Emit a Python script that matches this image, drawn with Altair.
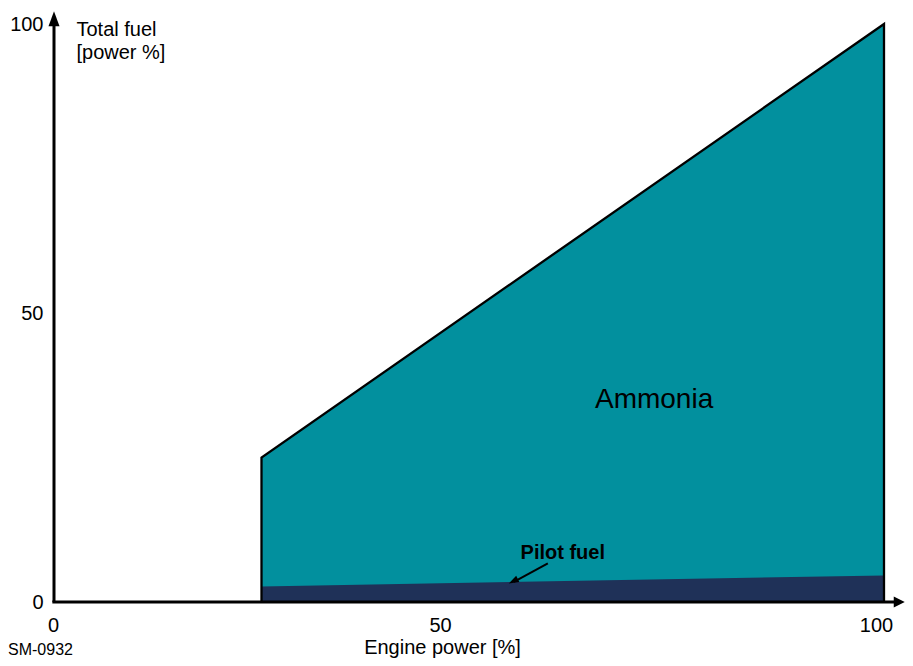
import altair as alt
import pandas as pd

# ---- data ----
power = [25, 100]          # engine power [%]
total_fuel = [25, 100]     # total fuel [power %]
pilot_fuel = [2.7, 4.6]    # pilot fuel share [power %]
x_ticks = [0, 50, 100]
y_ticks = [0, 50, 100]

# annotation anchors (data units)
ANNOT = {
    "ammonia": (72.3, 33.6),
    "pilot_text": (61.3, 7.45),
    "pilot_arrow_from": (59.5, 6.7),
    "pilot_arrow_to": (54.8, 3.2),
}

TEAL = "#02909e"
NAVY = "#1f3158"
FONT = "Liberation Sans"

xs = alt.Scale(domain=[0, 100], nice=False, zero=False)
ys = alt.Scale(domain=[0, 100], nice=False, zero=False)

xaxis = alt.Axis(
    values=x_ticks, title="Engine power [%]", domain=False, ticks=False, grid=False,
    labelFont=FONT, labelFontSize=20, labelColor="black", labelPadding=13,
    labelFlush=False,
    labelOffset={"condition": [{"test": "datum.value == 50", "value": -29},
                               {"test": "datum.value == 100", "value": -8}],
                 "value": -1},
    titleFont=FONT, titleFontSize=20, titleFontWeight="normal", titleColor="black",
    titleX=388, titleY=51, titleBaseline="alphabetic", titleAlign="center",
)
yaxis = alt.Axis(
    values=y_ticks, title=["Total fuel", "[power %]"], domain=False, ticks=False,
    grid=False, labelFont=FONT, labelFontSize=20, labelColor="black",
    labelPadding=11, labelFlush=False,
    titleFont=FONT, titleFontSize=20, titleFontWeight="normal", titleColor="black",
    titleAngle=0, titleAlign="left", titleBaseline="alphabetic",
    titleX=22, titleY=11, titleLineHeight=23,
)


def X(field=None, datum=None):
    if field is not None:
        return alt.X(field, type="quantitative", scale=xs, axis=xaxis)
    return alt.XDatum(datum, type="quantitative", scale=xs, axis=xaxis)


def Y(field=None, datum=None):
    if field is not None:
        return alt.Y(field, type="quantitative", scale=ys, axis=yaxis)
    return alt.YDatum(datum, type="quantitative", scale=ys, axis=yaxis)


df_total = pd.DataFrame({"power": power, "fuel": total_fuel})
df_pilot = pd.DataFrame({"power": power, "fuel": pilot_fuel})
df_outline = pd.DataFrame({
    "power": [power[0], power[0], power[1], power[1]],
    "fuel": [0, total_fuel[0], total_fuel[1], 0],
    "order": [0, 1, 2, 3],
})
one = pd.DataFrame({"a": [0]})

ammonia = alt.Chart(df_total).mark_area(color=TEAL, opacity=1).encode(x=X("power"), y=Y("fuel"))
pilot = alt.Chart(df_pilot).mark_area(color=NAVY, opacity=1).encode(x=X("power"), y=Y("fuel"))
outline = alt.Chart(df_outline).mark_line(color="black", strokeWidth=2.3).encode(
    x=X("power"), y=Y("fuel"), order="order:Q")

x_line = alt.Chart(one).mark_rule(color="black", strokeWidth=3).encode(
    x=X(datum=-0.2), x2=alt.X2Datum(101.3), y=Y(datum=0))
y_line = alt.Chart(one).mark_rule(color="black", strokeWidth=3).encode(
    x=X(datum=0), y=Y(datum=0), y2=alt.Y2Datum(100.5))
x_head = alt.Chart(one).mark_point(
    shape="M0,0L-11,-5.5L-11,5.5Z", size=4, filled=True, color="black", opacity=1
).encode(x=X(datum=102.5), y=Y(datum=0))
y_head = alt.Chart(one).mark_point(
    shape="M0,0L-5.5,15L5.5,15Z", size=4, filled=True, color="black", opacity=1
).encode(x=X(datum=0), y=Y(datum=102.2))

(ax0, ay0), (ax1, ay1) = ANNOT["pilot_arrow_from"], ANNOT["pilot_arrow_to"]
p_line = alt.Chart(one).mark_rule(color="black", strokeWidth=2).encode(
    x=X(datum=ax0), x2=alt.X2Datum(ax1 + 0.6), y=Y(datum=ay0), y2=alt.Y2Datum(ay1 + 0.3))
p_head = alt.Chart(one).mark_point(
    shape="M0,0L-10,-3.5L-10,3.5Z", size=4, filled=True, color="black", opacity=1,
    angle=153,
).encode(x=X(datum=ax1), y=Y(datum=ay1))

t_amm = alt.Chart(one).mark_text(
    text="Ammonia", font=FONT, fontSize=28, color="black", align="center",
    baseline="alphabetic",
).encode(x=X(datum=ANNOT["ammonia"][0]), y=Y(datum=ANNOT["ammonia"][1]))
t_pilot = alt.Chart(one).mark_text(
    text="Pilot fuel", font=FONT, fontSize=20, fontWeight="bold", color="black",
    align="center", baseline="alphabetic",
).encode(x=X(datum=ANNOT["pilot_text"][0]), y=Y(datum=ANNOT["pilot_text"][1]))
t_code = alt.Chart(one).mark_text(
    text="SM-0932", font=FONT, fontSize=16, color="black", align="left",
    baseline="alphabetic",
).encode(x=alt.value(-46), y=alt.value(631))

chart = alt.layer(
    ammonia, pilot, outline, x_line, y_line, x_head, y_head, p_line, p_head,
    t_amm, t_pilot, t_code,
).properties(
    width=830, height=578,
    background="white",
    autosize=alt.AutoSizeParams(type="none"),
    padding={"left": 46, "top": 16, "right": 21, "bottom": 56},
).configure_view(stroke="transparent", strokeWidth=0)

chart.save("out.html", embed_options={"renderer": "svg", "actions": False})
